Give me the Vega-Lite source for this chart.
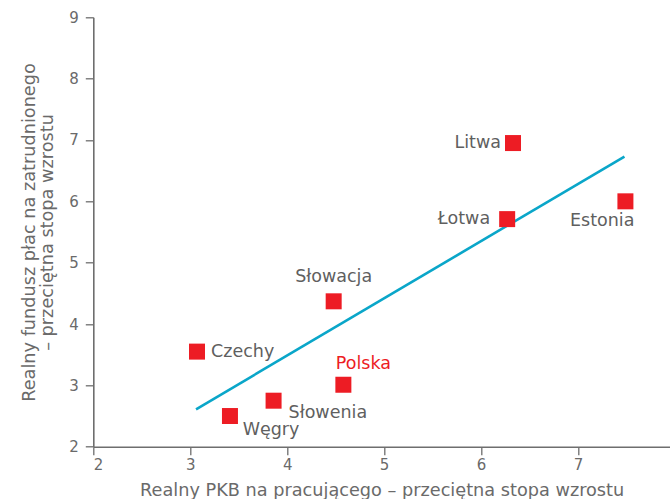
{
  "$schema": "https://vega.github.io/schema/vega-lite/v6.json",
  "width": 576.7,
  "height": 429.4,
  "autosize": "none",
  "padding": {"left": 93.3, "top": 17.3, "right": 0, "bottom": 52.3},
  "background": "white",
  "config": {
    "view": {"stroke": null},
    "axis": {
      "grid": false,
      "domainColor": "#6e6e6e",
      "domainWidth": 1.6,
      "tickColor": "#6e6e6e",
      "tickWidth": 1.3,
      "tickSize": 8,
      "labelColor": "#6a6a6a",
      "labelFont": "DejaVu Sans",
      "labelFontSize": 15,
      "format": "d",
      "titleColor": "#6a6a6a",
      "titleFont": "DejaVu Sans",
      "titleFontSize": 17.7,
      "titleLineHeight": 18,
      "titleFontWeight": "normal"
    },
    "text": {"font": "DejaVu Sans", "fontSize": 17.5, "color": "#5f5f5f"}
  },
  "datasets": {
    "pts": [
      {"country": "Litwa", "x": 6.33, "y": 6.95},
      {"country": "Łotwa", "x": 6.27, "y": 5.71},
      {"country": "Estonia", "x": 7.49, "y": 6.0},
      {"country": "Słowacja", "x": 4.48, "y": 4.37},
      {"country": "Czechy", "x": 3.07, "y": 3.55},
      {"country": "Polska", "x": 4.58, "y": 3.01},
      {"country": "Słowenia", "x": 3.86, "y": 2.75},
      {"country": "Węgry", "x": 3.41, "y": 2.5}
    ],
    "trend": [
      {"x": 3.06, "y": 2.61},
      {"x": 7.48, "y": 6.73}
    ]
  },
  "layer": [
    {
      "data": {"name": "trend"},
      "mark": {"type": "line", "color": "#0aa6c9", "strokeWidth": 2.6},
      "encoding": {
        "x": {
          "field": "x", "type": "quantitative",
          "scale": {"domain": [2, 7.95], "nice": false, "zero": false},
          "axis": {"values": [2, 3, 4, 5, 6, 7], "title": "Realny PKB na pracującego – przeciętna stopa wzrostu", "titlePadding": 9, "labelPadding": 3}
        },
        "y": {
          "field": "y", "type": "quantitative",
          "scale": {"domain": [2, 9], "nice": false, "zero": false},
          "axis": {"values": [2, 3, 4, 5, 6, 7, 8, 9], "title": ["Realny fundusz płac na zatrudnionego", "– przeciętna stopa wzrostu"], "titlePadding": 12, "labelPadding": 7}
        }
      }
    },
    {
      "data": {"name": "pts"},
      "mark": {"type": "point", "shape": "square", "filled": true, "size": 256, "color": "#ed1c24", "opacity": 1},
      "encoding": {
        "x": {"field": "x", "type": "quantitative"},
        "y": {"field": "y", "type": "quantitative"}
      }
    },
    {
      "data": {"name": "pts"},
      "transform": [{"filter": {"field": "country", "equal": "Litwa"}}],
      "mark": {"type": "text", "align": "right", "baseline": "middle", "dx": -12},
      "encoding": {"x": {"field": "x", "type": "quantitative"}, "y": {"field": "y", "type": "quantitative"}, "text": {"field": "country"}}
    },
    {
      "data": {"name": "pts"},
      "transform": [{"filter": {"field": "country", "equal": "Łotwa"}}],
      "mark": {"type": "text", "align": "right", "baseline": "middle", "dx": -17},
      "encoding": {"x": {"field": "x", "type": "quantitative"}, "y": {"field": "y", "type": "quantitative"}, "text": {"field": "country"}}
    },
    {
      "data": {"name": "pts"},
      "transform": [{"filter": {"field": "country", "equal": "Estonia"}}],
      "mark": {"type": "text", "align": "right", "baseline": "middle", "dx": 9, "dy": 20},
      "encoding": {"x": {"field": "x", "type": "quantitative"}, "y": {"field": "y", "type": "quantitative"}, "text": {"field": "country"}}
    },
    {
      "data": {"name": "pts"},
      "transform": [{"filter": {"field": "country", "equal": "Słowacja"}}],
      "mark": {"type": "text", "align": "center", "baseline": "middle", "dy": -24},
      "encoding": {"x": {"field": "x", "type": "quantitative"}, "y": {"field": "y", "type": "quantitative"}, "text": {"field": "country"}}
    },
    {
      "data": {"name": "pts"},
      "transform": [{"filter": {"field": "country", "equal": "Czechy"}}],
      "mark": {"type": "text", "align": "left", "baseline": "middle", "dx": 14},
      "encoding": {"x": {"field": "x", "type": "quantitative"}, "y": {"field": "y", "type": "quantitative"}, "text": {"field": "country"}}
    },
    {
      "data": {"name": "pts"},
      "transform": [{"filter": {"field": "country", "equal": "Polska"}}],
      "mark": {"type": "text", "align": "left", "baseline": "middle", "dx": -7.5, "dy": -21, "color": "#ed1c24"},
      "encoding": {"x": {"field": "x", "type": "quantitative"}, "y": {"field": "y", "type": "quantitative"}, "text": {"field": "country"}}
    },
    {
      "data": {"name": "pts"},
      "transform": [{"filter": {"field": "country", "equal": "Słowenia"}}],
      "mark": {"type": "text", "align": "left", "baseline": "middle", "dx": 15, "dy": 12.5},
      "encoding": {"x": {"field": "x", "type": "quantitative"}, "y": {"field": "y", "type": "quantitative"}, "text": {"field": "country"}}
    },
    {
      "data": {"name": "pts"},
      "transform": [{"filter": {"field": "country", "equal": "Węgry"}}],
      "mark": {"type": "text", "align": "left", "baseline": "middle", "dx": 12.7, "dy": 14},
      "encoding": {"x": {"field": "x", "type": "quantitative"}, "y": {"field": "y", "type": "quantitative"}, "text": {"field": "country"}}
    }
  ]
}
